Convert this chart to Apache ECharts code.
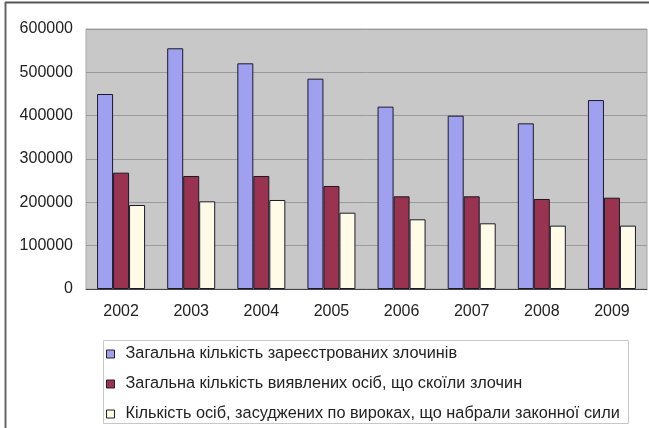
<!DOCTYPE html>
<html><head><meta charset="utf-8">
<script src="https://cdn.jsdelivr.net/npm/echarts@6/dist/echarts.min.js"></script>
<style>html,body{margin:0;padding:0;background:#fff}#c{width:649px;height:428px}</style>
</head><body><div id="c"></div>
<script>
const years = ['2002','2003','2004','2005','2006','2007','2008','2009'];
const seriesNames = [
  'Загальна кількість зареєстрованих злочинів',
  'Загальна кількість виявлених осіб, що скоїли злочин',
  'Кількість осіб, засуджених по вироках, що набрали законної сили'
];
const registered = [450000, 555500, 520800, 485400, 420800, 400000, 382300, 436000];
const identified = [268500, 260800, 260800, 237700, 213900, 213900, 207700, 210700];
const convicted  = [193800, 202300, 205400, 176100, 160800, 151600, 146200, 146200];
const colors = ['#a0a0f0', '#99334f', '#fffbe6'];
const FONT = 'Liberation Sans, Arial, sans-serif';

const chart = echarts.init(document.getElementById('c'));
const mk = (name, data, color) => ({
  name, type: 'bar', data,
  barWidth: 16,
  barGap: '0%',
  itemStyle: {color, borderColor: '#1a1a2a', borderWidth: 1},
  emphasis: {disabled: true}
});
chart.setOption({
  animation: false,
  textStyle: {fontFamily: FONT},
  graphic: [
    {type: 'line', shape: {x1: 5, y1: 2.5, x2: 649, y2: 2.5}, style: {stroke: '#555', lineWidth: 2}},
    {type: 'line', shape: {x1: 5.5, y1: 2, x2: 5.5, y2: 428}, style: {stroke: '#666', lineWidth: 2}},
    {type: 'rect', shape: {x: 103.5, y: 340.5, width: 525, height: 83}, style: {fill: '#fff', stroke: '#c8c8c8', lineWidth: 1}, z: -1}
  ],
  grid: {left: 86, right: 2, top: 29, bottom: 139, show: true, backgroundColor: '#c8c8c8', borderColor: '#a8a8a8', borderWidth: 1},
  legend: {
    orient: 'vertical', left: 106, top: 346, padding: 0,
    itemWidth: 8, itemHeight: 8, itemGap: 14,
    icon: 'rect',
    textStyle: {fontSize: 16.3, color: '#222', fontFamily: FONT, padding: [0, 0, 0, 6]},
    data: seriesNames.map((n) => ({name: n, itemStyle: {borderColor: '#222', borderWidth: 1}}))
  },
  xAxis: {
    type: 'category', data: years,
    axisLine: {lineStyle: {color: '#444', width: 1}},
    axisTick: {show: false},
    axisLabel: {fontSize: 16, color: '#222', margin: 15}
  },
  yAxis: {
    type: 'value', min: 0, max: 600000, interval: 100000,
    axisLine: {show: false}, axisTick: {show: false},
    splitLine: {lineStyle: {color: '#9a9a9a', width: 1}},
    axisLabel: {fontSize: 16, color: '#222', margin: 13, formatter: (v) => String(v)}
  },
  series: [
    mk(seriesNames[0], registered, colors[0]),
    mk(seriesNames[1], identified, colors[1]),
    mk(seriesNames[2], convicted, colors[2])
  ]
});
</script></body></html>
